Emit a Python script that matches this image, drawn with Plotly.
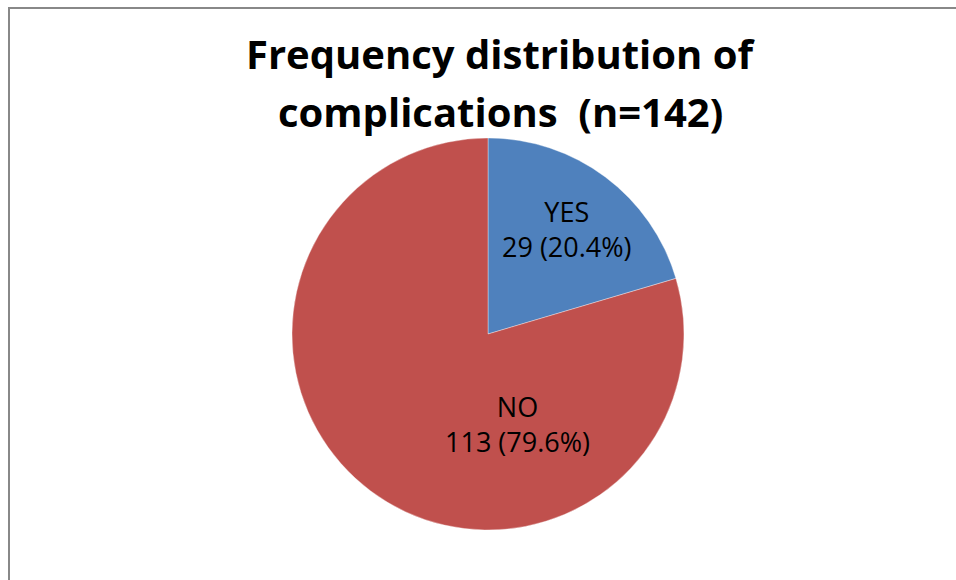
import math
import plotly.graph_objects as go

labels = ["YES", "NO"]
values = [29, 113]
colors = ["#4F81BD", "#C0504D"]
title_lines = ["Frequency distribution of", "complications  (n=142)"]

W, H = 956, 580
# pie geometry (pixels)
CX, CY, R = 488, 334, 196
# label placement: (angle clockwise from 12 o'clock in degrees or None for mid-slice, radius fraction)
label_place = [(None, 0.67), (162.0, 0.483)]

fig = go.Figure(go.Pie(
    labels=labels,
    values=values,
    sort=False,
    direction="clockwise",
    rotation=0,
    marker=dict(colors=colors, line=dict(color="rgba(255,255,255,0.6)", width=0.6)),
    textinfo="none",
    showlegend=False,
    hoverinfo="label+value+percent",
    domain=dict(x=[(CX - R) / W, (CX + R) / W], y=[(H - CY - R) / H, (H - CY + R) / H]),
))

total = sum(values)
annotations = []
start = 0.0
for lab, val, (ang, frac) in zip(labels, values, label_place):
    span = 360.0 * val / total
    theta = ang if ang is not None else start + span / 2
    start += span
    d = frac * R
    px = CX + d * math.sin(math.radians(theta))
    py = CY - d * math.cos(math.radians(theta))
    annotations.append(dict(
        text=f"{lab}<br>{val} ({100 * val / total:.1f}%)",
        x=px / W, y=1 - py / H, xref="paper", yref="paper",
        xanchor="center", yanchor="middle", showarrow=False,
        font=dict(family="Open Sans", size=27, color="#000000"),
    ))

title_baselines = [69, 127]
for line, base in zip(title_lines, title_baselines):
    annotations.append(dict(
        text="<b>" + line + "</b>",
        x=501 / W, y=1 - (base - 15.5) / H, xref="paper", yref="paper",
        xanchor="center", yanchor="middle", showarrow=False,
        font=dict(family="Open Sans", size=40, color="#000000"),
    ))

fig.update_layout(
    width=W, height=H,
    margin=dict(l=0, r=0, t=0, b=0),
    paper_bgcolor="white",
    plot_bgcolor="white",
    annotations=annotations,
    shapes=[
        dict(type="line", xref="paper", yref="paper",
             x0=8 / W, x1=1.0, y0=1 - 8 / H, y1=1 - 8 / H,
             line=dict(color="#888888", width=2)),
        dict(type="line", xref="paper", yref="paper",
             x0=9 / W, x1=9 / W, y0=0, y1=1 - 8 / H,
             line=dict(color="#888888", width=2)),
    ],
)

fig.write_html("out.html")
